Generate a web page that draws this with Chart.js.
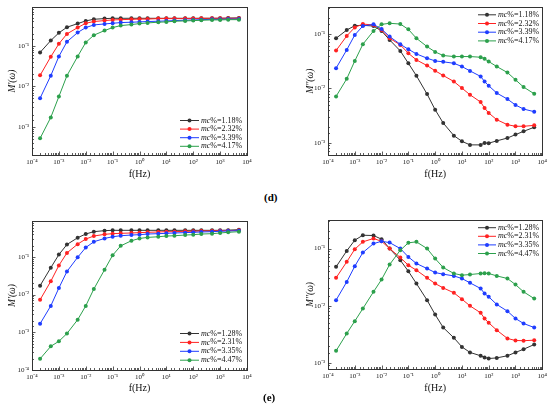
<!DOCTYPE html>
<html><head><meta charset="utf-8">
<script src="https://cdn.jsdelivr.net/npm/chart.js@4.4.0/dist/chart.umd.min.js"></script>
<style>
html,body{margin:0;padding:0;background:#fff;}
#wrap{position:relative;width:550px;height:418px;overflow:hidden;background:#fff;}
canvas{position:absolute;}
.lab{position:absolute;font:bold 11px "Liberation Serif",serif;color:#000;}
</style></head><body>
<div id="wrap">
<canvas id="c1" width="275" height="185" style="left:0;top:0"></canvas>
<canvas id="c2" width="275" height="185" style="left:275px;top:0"></canvas>
<canvas id="c3" width="275" height="185" style="left:0;top:210px"></canvas>
<canvas id="c4" width="275" height="185" style="left:275px;top:210px"></canvas>
<div class="lab" style="left:264px;top:191px">(d)</div>
<div class="lab" style="left:263px;top:391px">(e)</div>
</div>
<script>
// frequencies (Hz)
const freqReal = [2e-4,5e-4,1e-3,2e-3,5e-3,1e-2,2e-2,5e-2,0.1,0.2,0.5,1,2,5,10,20,50,100,200,500,1000,2000,5000];
const freqImag = [2e-4,5e-4,1e-3,2e-3,5e-3,1e-2,2e-2,5e-2,0.1,0.2,0.5,1,2,5,10,20,50,70,100,200,500,1000,2000,5000];
const labelsD = ['1.18%','2.32%','3.39%','4.17%'];
const labelsE = ['1.28%','2.31%','3.35%','4.47%'];
const colors = ['#333333','#ff2222','#1f3dff','#2ca04c'];

// (d) M'(w)
const dRe118 = [0.0686,0.135,0.209,0.288,0.354,0.412,0.453,0.47,0.479,0.479,0.479,0.479,0.479,0.479,0.479,0.479,0.479,0.479,0.479,0.479,0.48,0.485,0.49];
const dRe232 = [0.0186,0.0537,0.112,0.197,0.282,0.361,0.398,0.42,0.436,0.443,0.451,0.458,0.458,0.47,0.47,0.47,0.47,0.47,0.479,0.479,0.479,0.479,0.479];
const dRe339 = [0.00507,0.0183,0.0547,0.126,0.213,0.282,0.328,0.347,0.361,0.375,0.383,0.39,0.398,0.405,0.412,0.42,0.428,0.436,0.443,0.451,0.451,0.458,0.458];
const dRe417 = [5.16e-4,0.0017,0.00557,0.0183,0.0547,0.121,0.183,0.238,0.282,0.316,0.335,0.354,0.368,0.383,0.39,0.405,0.412,0.42,0.428,0.436,0.436,0.443,0.443];
// (d) M''(w)
const dIm118 = [0.0833,0.118,0.142,0.144,0.140,0.1135,0.0777,0.0489,0.029,0.0171,0.00788,0.00407,0.00232,0.00136,0.00107,0.00092,0.00092,0.001,0.00099,0.00109,0.00123,0.00142,0.00163,0.00194];
const dIm232 = [0.0496,0.0919,0.132,0.152,0.146,0.118,0.0833,0.063,0.0443,0.0334,0.0263,0.0211,0.0173,0.0134,0.01014,0.00766,0.00562,0.00437,0.00354,0.00267,0.00216,0.00202,0.00202,0.0021];
const dIm339 = [0.0235,0.051,0.0959,0.14,0.15,0.123,0.0894,0.0647,0.0524,0.043,0.0359,0.032,0.0308,0.029,0.0252,0.021,0.0166,0.0134,0.0112,0.00822,0.00638,0.00496,0.00419,0.00374];
const dIm417 = [0.00715,0.015,0.032,0.0647,0.1135,0.15,0.157,0.152,0.1217,0.0833,0.0586,0.0469,0.0402,0.0385,0.0385,0.0385,0.0374,0.0349,0.0312,0.0252,0.0196,0.0144,0.0106,0.00798];
// (e) M'(w)
const eRe128 = [0.0173,0.0518,0.1155,0.214,0.324,0.406,0.469,0.499,0.509,0.509,0.509,0.509,0.509,0.509,0.509,0.509,0.509,0.509,0.509,0.509,0.509,0.515,0.53];
const eRe231 = [0.0073,0.0226,0.0597,0.128,0.219,0.299,0.359,0.398,0.415,0.424,0.433,0.442,0.451,0.46,0.469,0.469,0.479,0.479,0.489,0.489,0.499,0.499,0.509];
const eRe335 = [0.00169,0.00503,0.015,0.0412,0.098,0.178,0.253,0.31,0.344,0.366,0.382,0.39,0.406,0.415,0.424,0.433,0.442,0.451,0.46,0.469,0.479,0.489,0.499];
const eRe447 = [1.98e-4,4.25e-4,5.78e-4,9.29e-4,0.00216,0.00503,0.0141,0.0457,0.111,0.197,0.269,0.31,0.33,0.344,0.359,0.366,0.382,0.39,0.406,0.415,0.433,0.451,0.469];
// (e) M''(w)
const eIm128 = [0.0478,0.091,0.14,0.171,0.169,0.146,0.1,0.0625,0.0401,0.0244,0.0125,0.007,0.00415,0.00274,0.0019,0.00152,0.00133,0.00124,0.00119,0.00122,0.00133,0.00152,0.00173,0.00209];
const eIm231 = [0.0307,0.0585,0.0974,0.131,0.15,0.134,0.1,0.0696,0.051,0.0418,0.0307,0.0244,0.0205,0.0168,0.013,0.00993,0.0075,0.00597,0.00501,0.00373,0.00267,0.00246,0.00244,0.00249];
const eIm335 = [0.0125,0.0261,0.0491,0.0851,0.122,0.134,0.127,0.1,0.0714,0.0547,0.0447,0.038,0.0356,0.0332,0.0299,0.0251,0.02,0.0163,0.0143,0.0105,0.00802,0.00597,0.00488,0.00415];
const eIm447 = [0.00162,0.00326,0.00536,0.00891,0.0175,0.0287,0.0525,0.0935,0.126,0.131,0.1,0.0668,0.0466,0.0366,0.0342,0.0351,0.0366,0.0371,0.0366,0.0332,0.0299,0.0234,0.0175,0.0133];

const SUP = {'-':'\u207B','0':'\u2070','1':'\u00B9','2':'\u00B2','3':'\u00B3','4':'\u2074','5':'\u2075','6':'\u2076','7':'\u2077','8':'\u2078','9':'\u2079'};
function pow10Label(v){
  const l = Math.log10(v);
  const r = Math.round(l);
  if (Math.abs(l - r) < 1e-6) return '10' + String(r).split('').map(c => SUP[c]).join('');
  return '';
}
function isMajor(v){ const l = Math.log10(v); return Math.abs(l - Math.round(l)) < 1e-6; }

const framePlugin = {
  id: 'frame',
  afterDatasetsDraw(chart){
    const ctx = chart.ctx, a = chart.chartArea;
    ctx.save();
    ctx.strokeStyle = '#333'; ctx.lineWidth = 1;
    ctx.strokeRect(Math.round(a.left)+0.5, Math.round(a.top)+0.5, Math.round(a.right-a.left), Math.round(a.bottom-a.top));
    ctx.lineWidth = 0.8;
    const xs = chart.scales.x, ys = chart.scales.y;
    xs.ticks.forEach(t => {
      const px = Math.round(xs.getPixelForValue(t.value)) + 0.5;
      const len = isMajor(t.value) ? 3.5 : 2;
      ctx.beginPath(); ctx.moveTo(px, a.bottom); ctx.lineTo(px, a.bottom - len); ctx.stroke();
    });
    ys.ticks.forEach(t => {
      const py = Math.round(ys.getPixelForValue(t.value)) + 0.5;
      const len = isMajor(t.value) ? 3.5 : 2;
      ctx.beginPath(); ctx.moveTo(a.left, py); ctx.lineTo(a.left + len, py); ctx.stroke();
    });
    ctx.restore();
  }
};

const legendPlugin = {
  id: 'mcLegend',
  afterDraw(chart){
    const o = chart.options.plugins.mcLegend;
    if (!o) return;
    const ctx = chart.ctx;
    ctx.save();
    chart.data.datasets.forEach((ds, i) => {
      const y = o.y + i * o.dy;
      ctx.strokeStyle = ds.borderColor; ctx.lineWidth = 1;
      ctx.beginPath(); ctx.moveTo(o.x, y); ctx.lineTo(o.x + o.len, y); ctx.stroke();
      ctx.fillStyle = ds.borderColor;
      ctx.beginPath(); ctx.arc(o.x + o.len/2, y, 2, 0, Math.PI*2); ctx.fill();
      ctx.fillStyle = '#111';
      ctx.textBaseline = 'middle';
      ctx.font = 'italic 8px "Liberation Serif", serif';
      const tx = o.x + o.len + 2;
      ctx.fillText('mc', tx, y);
      const w = ctx.measureText('mc').width;
      ctx.font = '8px "Liberation Serif", serif';
      ctx.fillText('%=' + o.labels[i], tx + w, y);
    });
    ctx.restore();
  }
};

function makeChart(id, freq, series, labels, cfg){
  const datasets = series.map((vals, i) => ({
    label: 'mc%=' + labels[i],
    data: freq.map((f, j) => ({x: f, y: vals[j]})),
    borderColor: colors[i],
    backgroundColor: colors[i],
    pointBackgroundColor: colors[i],
    pointBorderColor: colors[i],
    pointBorderWidth: 0,
    pointRadius: 2,
    borderWidth: 1,
    tension: 0,
    order: 3 - i
  }));
  return new Chart(document.getElementById(id), {
    type: 'line',
    data: { datasets },
    plugins: [framePlugin, legendPlugin],
    options: {
      responsive: false,
      animation: false,
      devicePixelRatio: 1,
      layout: { padding: cfg.pad },
      plugins: {
        legend: { display: false },
        tooltip: { enabled: false },
        mcLegend: Object.assign({ labels }, cfg.legend)
      },
      scales: {
        x: {
          type: 'logarithmic',
          min: 1e-4, max: 1e4,
          grid: { display: false, drawTicks: false },
          border: { display: false },
          ticks: {
            autoSkip: false, maxRotation: 0, padding: 3,
            color: '#222', font: { family: '"Liberation Serif", serif', size: 7 },
            callback: v => pow10Label(v)
          },
          title: { display: true, text: 'f(Hz)', color: '#111', padding: 0,
                   font: { family: '"Liberation Serif", serif', size: 10 } },
          afterFit: s => { s.height = cfg.xH; }
        },
        y: {
          type: 'logarithmic',
          min: cfg.yMin, max: cfg.yMax,
          grid: { display: false, drawTicks: false },
          border: { display: false },
          ticks: {
            autoSkip: false, padding: 3,
            color: '#222', font: { family: '"Liberation Serif", serif', size: 7 },
            callback: v => pow10Label(v)
          },
          title: { display: true, text: cfg.yTitle, color: '#111', padding: 0,
                   font: { family: '"Liberation Serif", serif', size: 9.5, style: 'italic' } },
          afterFit: s => { s.width = cfg.yW; }
        }
      }
    }
  });
}

makeChart('c1', freqReal, [dRe118, dRe232, dRe339, dRe417], labelsD, {
  pad: {left: 7, top: 7, right: 28, bottom: 5}, yW: 25, xH: 25,
  yMin: 2e-4, yMax: 0.9, yTitle: "M'(\u03C9)",
  legend: {x: 180, y: 120.5, dy: 8.6, len: 19}
});
makeChart('c2', freqImag, [dIm118, dIm232, dIm339, dIm417], labelsD, {
  pad: {left: 30, top: 7, right: 6, bottom: 5}, yW: 23, xH: 25,
  yMin: 6e-4, yMax: 0.31, yTitle: "M''(\u03C9)",
  legend: {x: 203, y: 14.8, dy: 8.7, len: 18}
});
makeChart('c3', freqReal, [eRe128, eRe231, eRe335, eRe447], labelsE, {
  pad: {left: 7, top: 11, right: 28, bottom: 1}, yW: 25, xH: 24,
  yMin: 1e-4, yMax: 0.9, yTitle: "M'(\u03C9)",
  legend: {x: 180, y: 123.5, dy: 8.9, len: 19}
});
makeChart('c4', freqImag, [eIm128, eIm231, eIm335, eIm447], labelsE, {
  pad: {left: 30, top: 10, right: 6, bottom: 1}, yW: 23, xH: 25,
  yMin: 7.8e-4, yMax: 0.316, yTitle: "M''(\u03C9)",
  legend: {x: 203, y: 17.7, dy: 8.6, len: 18}
});
</script>
</body></html>
